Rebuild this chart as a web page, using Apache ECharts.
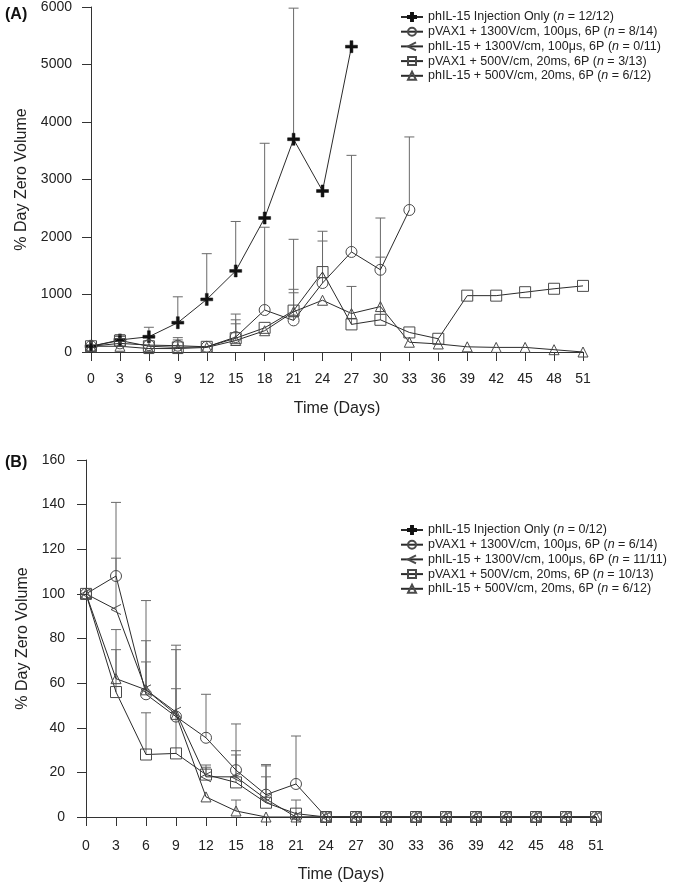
<!DOCTYPE html>
<html>
<head>
<meta charset="utf-8">
<script src="https://cdn.jsdelivr.net/npm/echarts@6/dist/echarts.min.js"></script>
<style>
html,body{margin:0;padding:0;background:#fff;}
#c{width:686px;height:884px;}
</style>
</head>
<body>
<div id="c"></div>
<script>
// ---------- data ----------
const days = [0,3,6,9,12,15,18,21,24,27,30,33,36,39,42,45,48,51];
const xTicks = days;

// Panel A
const labelsA = [
  'phIL-15 Injection Only (n = 12/12)',
  'pVAX1 + 1300V/cm, 100\u03bcs, 6P (n = 8/14)',
  'phIL-15 + 1300V/cm, 100\u03bcs, 6P (n = 0/11)',
  'pVAX1 + 500V/cm, 20ms, 6P (n = 3/13)',
  'phIL-15 + 500V/cm, 20ms, 6P (n = 6/12)'
];
const crossA    = [100,210,265,510,915,1410,2330,3700,2800,5310];
const crossAErr = [null,300,430,960,1710,2270,3630,5980,null,null];
const circleA    = [100,150,120,110,90,260,730,550,1200,1740,1430,2470];
const circleAErr = [null,null,null,null,null,660,2170,1960,2100,3420,2330,3740];
const leftA    = [];
const leftAErr = [];
const squareA    = [100,200,100,80,90,240,420,720,1390,480,560,340,230,980,980,1040,1100,1150];
const squareAErr = [null,270,null,250,null,560,null,1090,1930,1140,1650,null,null,null,null,null,null,null];
const triA    = [100,100,60,60,80,200,370,700,900,670,790,170,140,90,80,80,40,0];
const triAErr = [null,null,null,210,null,490,null,1030,null,null,null,null,null,null,null,null,null,null];

// Panel B
const labelsB = [
  'phIL-15 Injection Only (n = 0/12)',
  'pVAX1 + 1300V/cm, 100\u03bcs, 6P (n = 6/14)',
  'phIL-15 + 1300V/cm, 100\u03bcs, 6P (n = 11/11)',
  'pVAX1 + 500V/cm, 20ms, 6P (n = 10/13)',
  'phIL-15 + 500V/cm, 20ms, 6P (n = 6/12)'
];
const crossB    = [];
const crossBErr = [];
const circleB    = [100,108,55,45,35.5,21,10,14.8,0,0,0,0,0,0,0,0,0,0];
const circleBErr = [null,141,97,77,55,41.7,23.5,36.3,null,null,null,null,null,null,null,null,null,null];
const leftB    = [100,93,57,47,18,18,8,0,0,0,0,0,0,0,0,0,0,0];
const leftBErr = [null,116,79,75,22.3,29.7,22.9,null,null,null,null,null,null,null,null,null,null,null];
const squareB    = [100,56,28,28.5,19,15.5,6.4,1.5,0,0,0,0,0,0,0,0,0,0];
const squareBErr = [null,75,46.7,57.5,23.3,27.8,18,7.6,null,null,null,null,null,null,null,null,null,null];
const triB    = [100,62,57,46,9,2.7,0,0,0,0,0,0,0,0,0,0,0,0];
const triBErr = [null,84,69.5,null,null,7.6,null,null,null,null,null,null,null,null,null,null,null,null];

const yTicksA = [0,1000,2000,3000,4000,5000,6000];
const yTicksB = [0,20,40,60,80,100,120,140,160];

// ---------- styles ----------
const FONT = 'Liberation Sans, Arial, Helvetica, sans-serif';
const LINE = '#2b2b2b';
const MARK = '#4a4a4a';
const ERR = '#6a6a6a';

const symbols = [
  {symbol:'path://M3.8,0H6.2V3.8H10V6.2H6.2V10H3.8V6.2H0V3.8H3.8Z', size:12, fill:'#111', stroke:'#111', bw:0.5},
  {symbol:'circle', size:11, fill:'transparent', stroke:MARK, bw:1},
  {symbol:'path://M10,0L0,5L10,10', size:[10,10], fill:'transparent', stroke:MARK, bw:1},
  {symbol:'rect', size:11, fill:'transparent', stroke:MARK, bw:1},
  {symbol:'triangle', size:10, fill:'transparent', stroke:MARK, bw:1}
];

function pairs(vals){ return vals.map((v,i)=>[days[i], v]); }
function errData(vals, errs){
  const out = [];
  errs.forEach((e,i)=>{ if(e!=null && vals[i]!=null) out.push([days[i], vals[i], e]); });
  return out;
}

function lineSeries(name, vals, k, axis){
  const s = symbols[k];
  return {
    type:'line', name:name, xAxisIndex:axis, yAxisIndex:axis,
    data:pairs(vals), symbol:s.symbol, symbolSize:s.size,
    showAllSymbol:true, clip:false, z:3,
    lineStyle:{color:LINE, width:1},
    itemStyle:{color:s.fill, borderColor:s.stroke, borderWidth:s.bw},
    emphasis:{disabled:true}
  };
}
function errSeries(vals, errs, axis, id){
  return {
    type:'custom', name:id, xAxisIndex:axis, yAxisIndex:axis, z:2, clip:false,
    data:errData(vals, errs),
    renderItem:function(params, api){
      const p0 = api.coord([api.value(0), api.value(1)]);
      const p1 = api.coord([api.value(0), api.value(2)]);
      return {type:'group', children:[
        {type:'line', shape:{x1:p0[0], y1:p0[1], x2:p1[0], y2:p1[1]}, style:{stroke:ERR, lineWidth:1}},
        {type:'line', shape:{x1:p1[0]-5, y1:p1[1], x2:p1[0]+5, y2:p1[1]}, style:{stroke:ERR, lineWidth:1}}
      ]};
    }
  };
}

const seriesA = [[crossA,crossAErr],[circleA,circleAErr],[leftA,leftAErr],[squareA,squareAErr],[triA,triAErr]];
const seriesB = [[crossB,crossBErr],[circleB,circleBErr],[leftB,leftBErr],[squareB,squareBErr],[triB,triBErr]];

const series = [];
seriesA.forEach((s,k)=>{ series.push(errSeries(s[0], s[1], 0, 'errA'+k)); });
seriesB.forEach((s,k)=>{ series.push(errSeries(s[0], s[1], 1, 'errB'+k)); });
seriesA.forEach((s,k)=>{ series.push(lineSeries(labelsA[k], s[0], k, 0)); });
seriesB.forEach((s,k)=>{ series.push(lineSeries(labelsB[k], s[0], k, 1)); });

const axisLine = {show:true, lineStyle:{color:'#333', width:1}};
const axisTick = {show:true, inside:false, length:9, lineStyle:{color:'#333', width:1}};
const axLabel = {color:'#222', fontFamily:FONT, fontSize:14};
const nameStyle = {color:'#222', fontFamily:FONT, fontSize:16};

function xAxis(idx){
  return {
    type:'value', gridIndex:idx, min:0, max:51, interval:3,
    name:'Time (Days)', nameLocation:'middle', nameGap:idx===0?49:50, nameTextStyle:nameStyle,
    axisLine:axisLine, axisTick:axisTick, splitLine:{show:false},
    axisLabel:Object.assign({margin:idx===0?20:22, formatter:v=>xTicks.indexOf(v)>=0?String(v):''}, axLabel)
  };
}
function yAxis(idx, max, interval, ticks){
  return {
    type:'value', gridIndex:idx, min:0, max:max, interval:interval,
    name:'% Day Zero Volume', nameLocation:'middle', nameGap:idx===0?57:53, nameTextStyle:nameStyle,
    axisLine:axisLine, axisTick:axisTick, splitLine:{show:false},
    axisLabel:Object.assign({margin:idx===0?19:21, formatter:v=>ticks.indexOf(v)>=0?String(v):''}, axLabel)
  };
}

function legend(labels, top){
  return {
    orient:'vertical', left:400, top:top, padding:0, itemWidth:22, itemHeight:10, itemGap:1.7,
    data:labels, selectedMode:false,
    formatter:function(n){ return n.replace('(n =', '({i|n} ='); },
    textStyle:{fontFamily:FONT, fontSize:12.5, color:'#222', lineHeight:12,
      rich:{i:{fontFamily:FONT, fontSize:12.5, fontStyle:'italic', color:'#222', lineHeight:12}}}
  };
}

const option = {
  animation:false,
  backgroundColor:'#fff',
  title:[
    {text:'(A)', left:0, top:2, textStyle:{fontFamily:FONT, fontSize:16, fontWeight:'bold', color:'#111'}},
    {text:'(B)', left:0, top:450, textStyle:{fontFamily:FONT, fontSize:16, fontWeight:'bold', color:'#111'}}
  ],
  grid:[
    {left:91, top:7, width:492, height:345},
    {left:86, top:460, width:510, height:357}
  ],
  xAxis:[xAxis(0), xAxis(1)],
  yAxis:[yAxis(0, 6000, 1000, yTicksA), yAxis(1, 160, 20, yTicksB)],
  legend:[legend(labelsA, 10.5), legend(labelsB, 523.5)],
  series:series
};

const chart = echarts.init(document.getElementById('c'), null, {renderer:'canvas'});
chart.setOption(option);
</script>
</body>
</html>
